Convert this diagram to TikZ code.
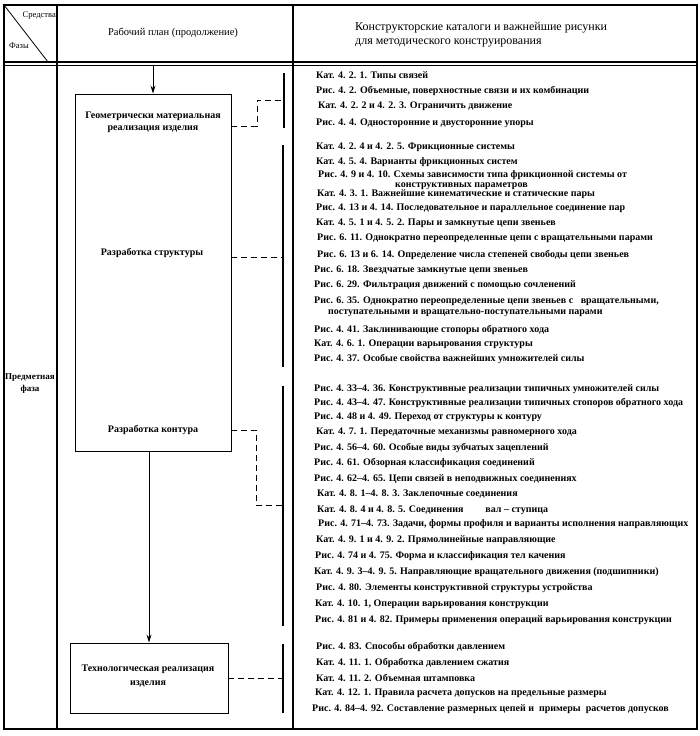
\documentclass[tikz,border=0pt]{standalone}
\usepackage{fontspec}
\setmainfont{Liberation Serif}
\usetikzlibrary{arrows.meta}
\begin{document}
\begin{tikzpicture}[x=1pt,y=-1pt,
  frame/.style={line width=1.3pt},
  rule/.style={line width=0.8pt},
  item/.style={anchor=west, inner sep=0pt, font=\fontsize{10}{12}\selectfont\bfseries},
  boxlbl/.style={align=center, inner sep=0pt, font=\fontsize{10}{12}\selectfont\bfseries},
  boxframe/.style={draw, line width=0.9pt, inner sep=0pt},
  bracket/.style={line width=1.3pt},
  dsh/.style={dash pattern=on 6pt off 4pt, line width=0.9pt},
  flow/.style={line width=0.9pt, -{Stealth[length=8pt,width=5pt]}},
  hdr/.style={inner sep=0pt, font=\fontsize{12}{13.5}\selectfont},
  hdrsmall/.style={inner sep=0pt, font=\fontsize{8.5}{10}\selectfont}
]
\useasboundingbox (0,0) rectangle (700,736);

% table frame
\draw[frame] (4,5) rectangle (697,729);
\draw[frame] (57,5) -- (57,729);
\draw[frame] (293,5) -- (293,729);
\draw[frame] (4,62) -- (697,62);
\draw[rule] (4,65.5) -- (697,65.5);
\draw[rule] (4,5) -- (48,62);

% header texts
\node[hdrsmall, anchor=east] (sredstva) at (56,16) {Средства};
\node[hdrsmall, anchor=west] (fazy) at (9,46) {Фазы};
\node[hdr, font=\fontsize{10.5}{12}\selectfont] (plan) at (173,33) {Рабочий план (продолжение)};
\node[hdr, anchor=west, align=left] (katalog) at (355,34.5) {Конструкторские каталоги и важнейшие рисунки\\для методического конструирования};

% phase label
\node[inner sep=0pt, align=center, font=\fontsize{9}{12}\selectfont\bfseries] (phase) at (30,384) {Предметная\\фаза};

% work plan boxes
\node[boxframe, minimum width=156pt, minimum height=357pt] (geo) at (153,272.5) {};
\node[boxlbl] (geot) at (153,122) {Геометрически материальная\\реализация изделия};
\node[boxlbl] (struct) at (152,253) {Разработка структуры};
\node[boxlbl] (kontur) at (153,430) {Разработка контура};

\node[boxframe, minimum width=158pt, minimum height=70pt] (tech) at (149,678) {};
\node[boxlbl, font=\fontsize{10}{14}\selectfont\bfseries] (techt) at (148,676) {Технологическая реализация\\изделия};

\coordinate (start) at (153,66);
\draw[flow] (start) -- (geo.north);
\draw[flow] (geo.south -| tech.north) -- (tech.north);

% brackets
\coordinate (b1t) at (284,73);  \coordinate (b1b) at (284,128);
\coordinate (b2t) at (283,145); \coordinate (b2b) at (283,367);
\coordinate (b3t) at (283,386); \coordinate (b3b) at (283,626);
\coordinate (b4t) at (283,644); \coordinate (b4b) at (283,713);
\draw[bracket] (b1t) -- (b1b);
\draw[bracket] (b2t) -- (b2b);
\draw[bracket] (b3t) -- (b3b);
\draw[bracket] (b4t) -- (b4b);

% dashed links
\coordinate (k1) at (257,126); \coordinate (m1) at (284,100);
\draw[dsh] (geo.east |- k1) -- (k1) |- (m1);
\coordinate (m2) at (283,257);
\draw[dsh] (geo.east |- m2) -- (m2);
\coordinate (k3) at (256,430); \coordinate (m3) at (283,505);
\draw[dsh] (geo.east |- k3) -- (k3) |- (m3);
\coordinate (m4) at (283,678);
\draw[dsh] (tech.east |- m4) -- (m4);

% catalogue items
\begin{scope}
\clip (294,67) rectangle (696,728);
\node[item] (i1) at (316,75) {Кат. 4. 2. 1. Типы связей};
\node[item] (i2) at (316,91) {Рис. 4. 2. Объемные, поверхностные связи и их комбинации};
\node[item] (i3) at (318,106) {Кат. 4. 2. 2 и 4. 2. 3. Ограничить движение};
\node[item] (i4) at (316,123) {Рис. 4. 4. Односторонние и двусторонние упоры};
\node[item] (i5) at (316,147) {Кат. 4. 2. 4 и 4. 2. 5. Фрикционные системы};
\node[item] (i6) at (316,162) {Кат. 4. 5. 4. Варианты фрикционных систем};
\node[item] (i7) at (318,175) {Рис. 4. 9 и 4. 10. Схемы зависимости типа фрикционной системы от};
\node[item] (i7b) at (395,186) {конструктивных параметров};
\node[item] (i8) at (317,194) {Кат. 4. 3. 1. Важнейшие кинематические и статические пары};
\node[item] (i9) at (316,208) {Рис. 4. 13 и 4. 14. Последовательное и параллельное соединение  пар};
\node[item] (i10) at (316,223) {Кат. 4. 5. 1 и 4. 5. 2. Пары и замкнутые цепи звеньев};
\node[item] (i11) at (317,238) {Рис. 6. 11. Однократно переопределенные цепи с  вращательными  парами};
\node[item] (i12) at (317,255) {Рис. 6. 13 и 6. 14. Определение числа степеней свободы  цепи звеньев};
\node[item] (i13) at (314,270) {Рис. 6. 18. Звездчатые замкнутые цепи звеньев};
\node[item] (i14) at (314,285) {Рис. 6. 29. Фильтрация движений с помощью сочленений};
\node[item] (i15) at (314,301) {Рис. 6. 35. Однократно переопределенные цепи звеньев с \ \ вращательными,};
\node[item] (i15b) at (328,313) {поступательными и вращательно-поступательными парами};
\node[item] (i16) at (314,330) {Рис. 4. 41. Заклинивающие стопоры обратного хода};
\node[item] (i17) at (314,344) {Кат. 4. 6. 1. Операции варьирования структуры};
\node[item] (i18) at (314,359) {Рис. 4. 37. Особые свойства важнейших умножителей силы};
\node[item] (i19) at (314,389) {Рис. 4. 33--4. 36. Конструктивные реализации типичных  умножителей силы};
\node[item] (i20) at (314,403) {Рис. 4. 43--4. 47. Конструктивные реализации типичных стопоров обратного хода};
\node[item] (i21) at (314,417) {Рис. 4. 48 и 4. 49. Переход от структуры к контуру};
\node[item] (i22) at (316,432) {Кат. 4. 7. 1. Передаточные механизмы равномерного хода};
\node[item] (i23) at (314,448) {Рис. 4. 56--4. 60. Особые виды зубчатых зацеплений};
\node[item] (i24) at (314,463) {Рис. 4. 61. Обзорная классификация соединений};
\node[item] (i25) at (314,479) {Рис. 4. 62--4. 65. Цепи связей в неподвижных соединениях};
\node[item] (i26) at (317,494) {Кат. 4. 8. 1--4. 8. 3. Заклепочные соединения};
\node[item] (i27) at (317,510) {Кат. 4. 8. 4 и 4. 8. 5. Соединения\hspace{22pt}вал -- ступица};
\node[item] (i28) at (318,524) {Рис. 4. 71--4. 73. Задачи, формы профиля и варианты исполнения направляющих};
\node[item] (i29) at (316,540) {Кат. 4. 9. 1 и 4. 9. 2. Прямолинейные направляющие};
\node[item] (i30) at (315,556) {Рис. 4. 74 и 4. 75. Форма и классификация тел качения};
\node[item] (i31) at (314,572) {Кат. 4. 9. 3--4. 9. 5. Направляющие вращательного движения (подшипники)};
\node[item] (i32) at (316,588) {Рис. 4. 80. Элементы конструктивной структуры устройства};
\node[item] (i33) at (315,604) {Кат. 4. 10. 1, Операции варьирования конструкции};
\node[item] (i34) at (315,620) {Рис. 4. 81 и 4. 82. Примеры применения операций варьирования  конструкции};
\node[item] (i35) at (316,647) {Рис. 4. 83. Способы обработки давлением};
\node[item] (i36) at (316,663) {Кат. 4. 11. 1. Обработка давлением сжатия};
\node[item] (i37) at (316,678) {Кат. 4. 11. 2. Объемная штамповка};
\node[item] (i38) at (315,693) {Кат. 4. 12. 1. Правила расчета допусков на предельные размеры};
\node[item] (i39) at (312,709) {Рис. 4. 84--4. 92. Составление размерных цепей и \ примеры \ расчетов допусков};
\end{scope}
\end{tikzpicture}
\end{document}
